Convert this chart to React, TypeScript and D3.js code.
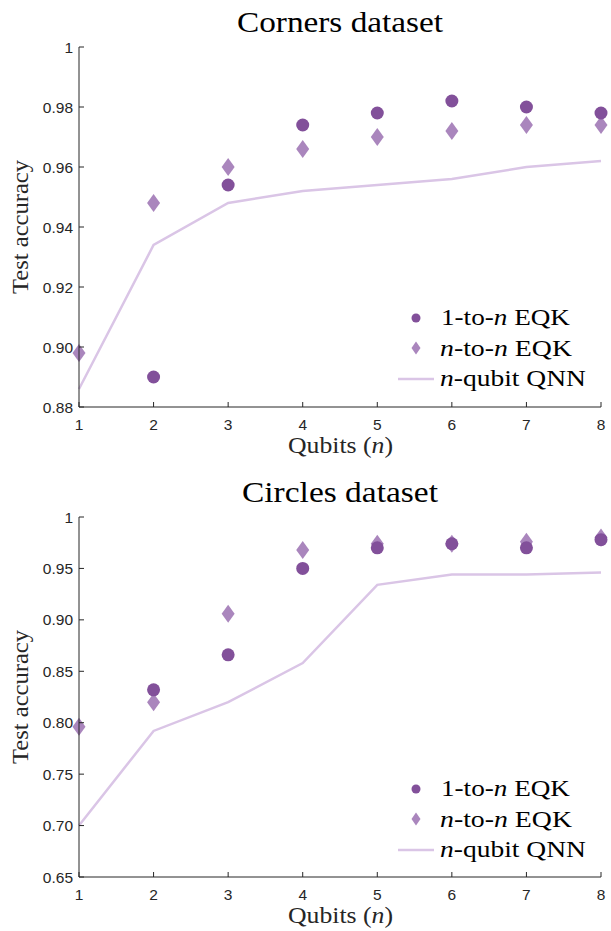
import React from "react";
import * as d3 from "d3";

const qubits = [1, 2, 3, 4, 5, 6, 7, 8];

// Corners dataset
const cornersOneToN: (number | null)[] = [null, 0.89, 0.954, 0.974, 0.978, 0.982, 0.98, 0.978];
const cornersNToN = [0.898, 0.948, 0.96, 0.966, 0.97, 0.972, 0.974, 0.974];
const cornersQnn = [0.886, 0.934, 0.948, 0.952, 0.954, 0.956, 0.96, 0.962];
const cornersTicks = [0.88, 0.9, 0.92, 0.94, 0.96, 0.98, 1];
const cornersTickLabels = ["0.88", "0.90", "0.92", "0.94", "0.96", "0.98", "1"];

// Circles dataset
const circlesOneToN: (number | null)[] = [null, 0.832, 0.866, 0.95, 0.97, 0.974, 0.97, 0.978];
const circlesNToN = [0.796, 0.82, 0.906, 0.968, 0.974, 0.974, 0.976, 0.98];
const circlesQnn = [0.7, 0.792, 0.82, 0.858, 0.934, 0.944, 0.944, 0.946];
const circlesTicks = [0.65, 0.7, 0.75, 0.8, 0.85, 0.9, 0.95, 1];
const circlesTickLabels = ["0.65", "0.70", "0.75", "0.80", "0.85", "0.90", "0.95", "1"];

const C_DARK = "#82509a";
const C_MID = "#aa86bd";
const C_LINE = "#dac5e6";
const SERIF = "'Liberation Serif', 'DejaVu Serif', serif";
const SANS = "'Liberation Sans', Arial, sans-serif";

const diamond = (cx: number, cy: number, w: number, h: number) =>
  `M${cx},${cy - h}L${cx + w},${cy}L${cx},${cy + h}L${cx - w},${cy}Z`;

type PanelProps = {
  top: number;
  bottom: number;
  title: string;
  titleWidth: number;
  domain: [number, number];
  ticks: number[];
  tickLabels: string[];
  oneToN: (number | null)[];
  nToN: number[];
  qnn: number[];
  legendY: number;
};

const Panel = ({ top, bottom, title, titleWidth, domain, ticks, tickLabels, oneToN, nToN, qnn, legendY }: PanelProps) => {
  const x = d3.scaleLinear().domain([1, 8]).range([79, 601]);
  const y = d3.scaleLinear().domain(domain).range([bottom, top]);
  const line = d3
    .line<number>()
    .x((_, i) => x(qubits[i]))
    .y((d) => y(d));

  return (
    <g>
      <text
        x={340 - titleWidth / 2}
        y={top - 15}
        textLength={titleWidth}
        lengthAdjust="spacingAndGlyphs"
        fontFamily={SERIF}
        fontSize={29}
        fill="#000"
      >
        {title}
      </text>
      <path d={line(qnn) || ""} fill="none" stroke={C_LINE} strokeWidth={2.5} />
      {nToN.map((v, i) => (
        <path key={"d" + i} d={diamond(x(qubits[i]), y(v), 6.5, 9)} fill={C_MID} />
      ))}
      {oneToN.map((v, i) =>
        v == null ? null : <circle key={"c" + i} cx={x(qubits[i])} cy={y(v)} r={6.5} fill={C_DARK} />
      )}
      {/* axes */}
      <line x1={79} x2={79} y1={top} y2={bottom} stroke="#262626" strokeWidth={1} />
      <line x1={79} x2={601} y1={bottom} y2={bottom} stroke="#262626" strokeWidth={1} />
      {ticks.map((t, i) => (
        <g key={"yt" + i}>
          <line x1={79} x2={84} y1={y(t)} y2={y(t)} stroke="#262626" />
          <text x={73} y={y(t) + 5.5} textAnchor="end" fontFamily={SANS} fontSize={15.5} fill="#262626">
            {tickLabels[i]}
          </text>
        </g>
      ))}
      {qubits.map((q) => (
        <g key={"xt" + q}>
          <line x1={x(q)} x2={x(q)} y1={bottom} y2={bottom - 5} stroke="#262626" />
          <text x={x(q)} y={bottom + 23} textAnchor="middle" fontFamily={SANS} fontSize={15.5} fill="#262626">
            {q}
          </text>
        </g>
      ))}
      <text
        x={288}
        y={bottom + 46}
        textLength={105}
        lengthAdjust="spacingAndGlyphs"
        fontFamily={SERIF}
        fontSize={23}
        fill="#262626"
      >
        Qubits (<tspan fontStyle="italic">n</tspan>)
      </text>
      <text
        transform={`translate(28,${(top + bottom) / 2}) rotate(-90)`}
        x={-67}
        textLength={134}
        lengthAdjust="spacingAndGlyphs"
        fontFamily={SERIF}
        fontSize={23}
        fill="#262626"
      >
        Test accuracy
      </text>
      {/* legend */}
      <g fontFamily={SERIF} fontSize={23} fill="#000">
        <circle cx={416} cy={legendY} r={4.5} fill={C_DARK} />
        <text x={441} y={legendY + 7} textLength={129} lengthAdjust="spacingAndGlyphs">
          1-to-<tspan fontStyle="italic">n</tspan> EQK
        </text>
        <path d={diamond(416, legendY + 30, 4.5, 6.5)} fill={C_MID} />
        <text x={440} y={legendY + 38} textLength={132} lengthAdjust="spacingAndGlyphs">
          <tspan fontStyle="italic">n</tspan>-to-<tspan fontStyle="italic">n</tspan> EQK
        </text>
        <line x1={398} x2={434} y1={legendY + 61} y2={legendY + 61} stroke={C_LINE} strokeWidth={2.5} />
        <text x={440} y={legendY + 68} textLength={146} lengthAdjust="spacingAndGlyphs">
          <tspan fontStyle="italic">n</tspan>-qubit QNN
        </text>
      </g>
    </g>
  );
};

export default function App() {
  return (
    <svg width={611} height={931} style={{ position: "absolute", left: 0, top: 0, background: "#fff" }}>
      <Panel
        top={47}
        bottom={407}
        title="Corners dataset"
        titleWidth={206}
        domain={[0.88, 1]}
        ticks={cornersTicks}
        tickLabels={cornersTickLabels}
        oneToN={cornersOneToN}
        nToN={cornersNToN}
        qnn={cornersQnn}
        legendY={318}
      />
      <Panel
        top={517}
        bottom={877}
        title="Circles dataset"
        titleWidth={196}
        domain={[0.65, 1]}
        ticks={circlesTicks}
        tickLabels={circlesTickLabels}
        oneToN={circlesOneToN}
        nToN={circlesNToN}
        qnn={circlesQnn}
        legendY={789}
      />
    </svg>
  );
}
